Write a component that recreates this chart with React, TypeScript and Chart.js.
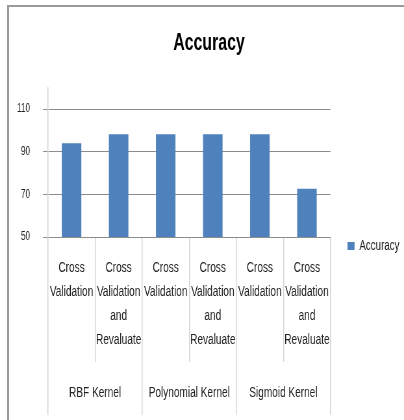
import React, { useEffect, useRef } from "react";
import { Chart, registerables } from "chart.js";

Chart.register(...registerables);

const chartTitle = "Accuracy";
const seriesName = "Accuracy";
const categoryLabels: string[][] = [
  ["Cross", "Validation"],
  ["Cross", "Validation", "and", "Revaluate"],
  ["Cross", "Validation"],
  ["Cross", "Validation", "and", "Revaluate"],
  ["Cross", "Validation"],
  ["Cross", "Validation", "and", "Revaluate"],
];
const groupLabels = ["RBF Kernel", "Polynomial Kernel", "Sigmoid Kernel"];
const accuracyValues = [94, 98.2, 98.2, 98.2, 98.2, 72.6];
const yTickValues = [50, 70, 90, 110];
const yMin = 50;
const yMax = 120;

// The chart is drawn on a wider bitmap and shown squeezed horizontally,
// which gives the narrow lettering of the original.
const SQUEEZE = 0.6495;
const VIEW_W = 404;
const VIEW_H = 420;
const BITMAP_W = Math.round(VIEW_W / SQUEEZE);

const FONT = "'Liberation Sans', Arial, sans-serif";

export default function App() {
  const canvasRef = useRef<HTMLCanvasElement | null>(null);

  useEffect(() => {
    const canvas = canvasRef.current;
    if (!canvas) return;
    const chart = new Chart(canvas, {
      type: "bar",
      data: {
        labels: categoryLabels,
        datasets: [
          {
            label: seriesName,
            data: accuracyValues,
            backgroundColor: "#4f81bd",
            borderWidth: 0,
            categoryPercentage: 1,
            barPercentage: 0.415,
            xAxisID: "x",
            yAxisID: "y",
          },
        ],
      },
      options: {
        animation: false,
        responsive: false,
        devicePixelRatio: 1,
        layout: { padding: { top: 0, left: 18.6, right: -3, bottom: 5 } },
        plugins: {
          tooltip: { enabled: false },
          title: {
            display: true,
            text: chartTitle,
            color: "#000",
            font: { family: FONT, size: 24.5, weight: "bold", lineHeight: 1.2 },
            padding: { top: 28.5, bottom: 29.8 },
          },
          legend: {
            display: true,
            position: "right",
            title: {
              display: true,
              text: "",
              font: { size: 10, lineHeight: 1 },
              padding: { top: 67, bottom: 0 },
            },
            labels: {
              boxWidth: 10.8,
              boxHeight: 8,
              padding: 26.2,
              color: "#222",
              font: { family: FONT, size: 15 },
            },
          },
        },
        scales: {
          x: {
            type: "category",
            position: "bottom",
            weight: 0,
            offset: true,
            grid: {
              offset: true,
              drawOnChartArea: false,
              drawTicks: true,
              tickLength: 125,
              color: "#d4d4d4",
              lineWidth: 1.5,
            },
            border: { display: true, color: "#8c8c8c", width: 1 },
            ticks: {
              autoSkip: false,
              maxRotation: 0,
              minRotation: 0,
              padding: -106,
              color: "#222",
              font: { family: FONT, size: 15.5, lineHeight: "23.8px" },
            },
            afterFit: (scale: any) => {
              scale.height = 125;
            },
          },
          x2: {
            type: "category",
            position: "bottom",
            weight: 1,
            labels: groupLabels,
            offset: true,
            grid: {
              offset: true,
              drawOnChartArea: false,
              drawTicks: true,
              tickLength: 53,
              color: "#d4d4d4",
              lineWidth: 1.5,
            },
            border: { display: false },
            ticks: {
              autoSkip: false,
              maxRotation: 0,
              minRotation: 0,
              padding: -31.3,
              color: "#222",
              font: { family: FONT, size: 15.5, lineHeight: 1.2 },
            },
            afterFit: (scale: any) => {
              scale.height = 53;
            },
          },
          y: {
            type: "linear",
            position: "left",
            min: yMin,
            max: yMax,
            afterBuildTicks: (scale: any) => {
              scale.ticks = yTickValues.map((v) => ({ value: v }));
            },
            grid: {
              color: "#8c8c8c",
              lineWidth: 1,
              tickLength: 7.7,
              drawTicks: true,
            },
            border: { display: true, color: "#d4d4d4", width: 1.5 },
            ticks: {
              padding: 20,
              color: "#222",
              font: { family: FONT, size: 12.5 },
            },
            afterFit: (scale: any) => {
              scale.width = 55.3;
            },
          },
        },
      },
    } as any);
    return () => chart.destroy();
  }, []);

  return (
    <div
      style={{
        position: "fixed",
        left: 0,
        top: 0,
        width: VIEW_W,
        height: VIEW_H,
        overflow: "hidden",
        background: "#fff",
      }}
    >
      <div
        style={{
          position: "absolute",
          left: 7,
          top: 5,
          width: 500,
          height: 500,
          border: "2px solid #999",
          boxSizing: "border-box",
        }}
      />
      <canvas
        ref={canvasRef}
        width={BITMAP_W}
        height={VIEW_H}
        style={{ position: "absolute", left: 0, top: 0, width: VIEW_W, height: VIEW_H }}
      />
    </div>
  );
}
